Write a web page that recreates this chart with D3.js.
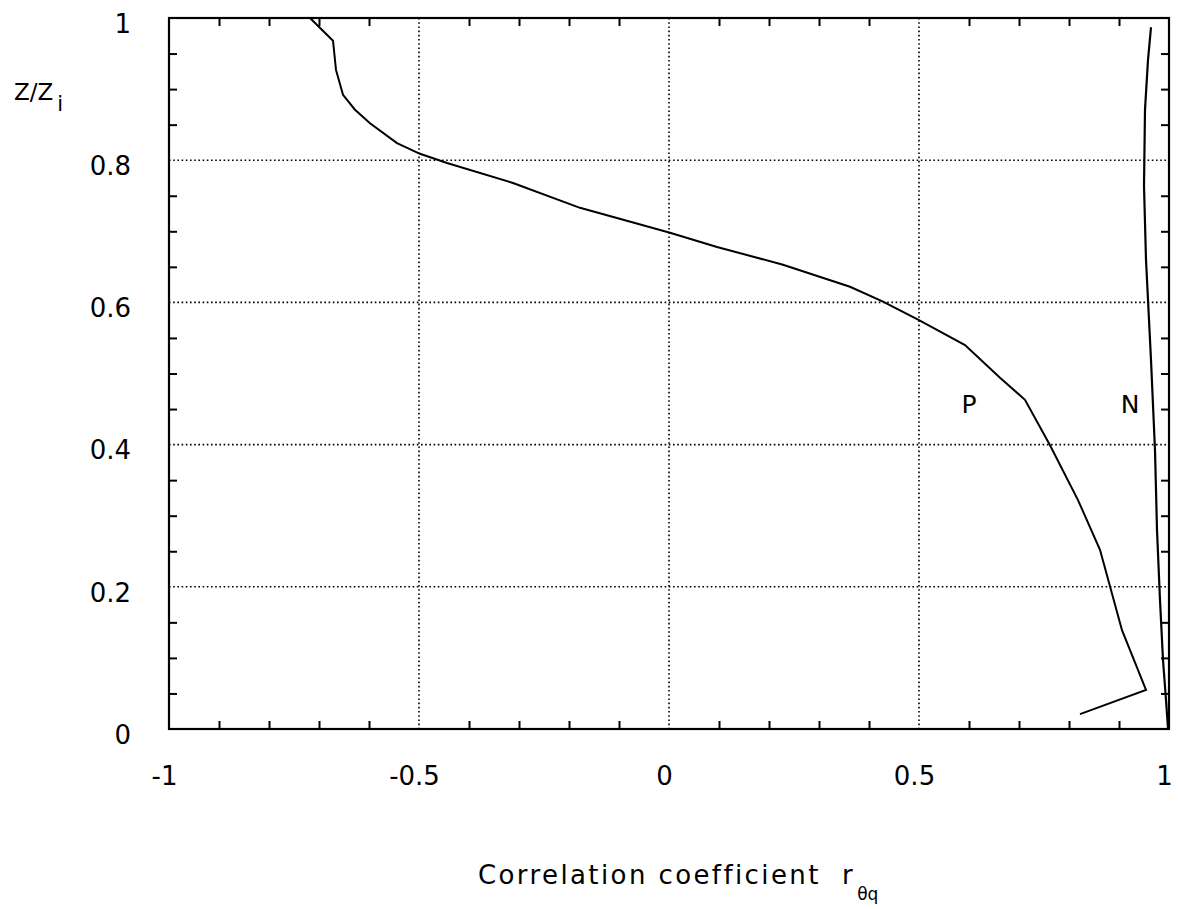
<!DOCTYPE html>
<html>
<head>
<meta charset="utf-8">
<script src="https://cdn.jsdelivr.net/npm/d3@7"></script>
<style>
  body { margin: 0; background: #fff; }
  text { font-family: "DejaVu Sans", sans-serif; fill: #000; }
</style>
</head>
<body>
<div id="chart"></div>
<script>
// profile P : correlation (x) against height z/zi (y)
const pCorr = [-0.718, -0.672, -0.666, -0.652, -0.628, -0.598, -0.544, -0.498, -0.444, -0.312, -0.178, 0.002, 0.096, 0.228, 0.362, 0.428, 0.5, 0.592, 0.662, 0.712, 0.762, 0.818, 0.862, 0.906, 0.954, 0.822]
const pZ = [1.0, 0.968, 0.927, 0.892, 0.871, 0.852, 0.824, 0.809, 0.796, 0.768, 0.733, 0.698, 0.678, 0.653, 0.622, 0.601, 0.575, 0.540, 0.494, 0.463, 0.399, 0.322, 0.252, 0.139, 0.055, 0.021]

// profile N
const nCorr = [0.964, 0.958, 0.952, 0.950, 0.954, 0.964, 0.972, 0.976, 0.982, 0.988, 0.994, 0.998]
const nZ = [0.987, 0.941, 0.871, 0.764, 0.660, 0.519, 0.392, 0.280, 0.181, 0.097, 0.041, 0.001]

const xTickLabels = [-1, -0.5, 0, 0.5, 1]
const yTickLabels = [0, 0.2, 0.4, 0.6, 0.8, 1]
const xGrid = [-0.5, 0, 0.5]
const yGrid = [0.2, 0.4, 0.6, 0.8]

const width = 1179, height = 909
const margin = {left: 169, right: 10, top: 18, bottom: 180}

const svg = d3.select("#chart")
  .append("svg")
  .attr("width", width)
  .attr("height", height)

const xScale = d3.scaleLinear()
  .domain([-1, 1])
  .range([margin.left, 1169])

const yScale = d3.scaleLinear()
  .domain([0, 1])
  .range([729, margin.top])

// dotted grid
svg.selectAll(".gx")
  .data(xGrid)
  .join("line")
  .attr("x1", d => xScale(d))
  .attr("x2", d => xScale(d))
  .attr("y1", yScale(1))
  .attr("y2", yScale(0))
  .attr("stroke", "#000")
  .attr("stroke-width", 1.6)
  .attr("stroke-dasharray", "1.6,2.6")

svg.selectAll(".gy")
  .data(yGrid)
  .join("line")
  .attr("x1", xScale(-1))
  .attr("x2", xScale(1))
  .attr("y1", d => yScale(d))
  .attr("y2", d => yScale(d))
  .attr("stroke", "#000")
  .attr("stroke-width", 1.6)
  .attr("stroke-dasharray", "1.6,2.6")

// minor ticks, inward, skipping the grid positions
const isMajorX = v => xGrid.some(g => Math.abs(g - v) < 1e-6)
const isMajorY = v => yGrid.some(g => Math.abs(g - v) < 1e-6)
const xMinor = d3.range(-9, 10).map(i => i / 10).filter(v => !isMajorX(v))
const yMinor = d3.range(1, 20).map(i => i / 20).filter(v => !isMajorY(v))

const tickStyle = g => {
  g.select(".domain").remove()
  g.selectAll("line").attr("stroke", "#000").attr("stroke-width", 2)
  g.selectAll("text").remove()
}

svg.append("g")
  .attr("transform", `translate(0,${yScale(0)})`)
  .call(d3.axisBottom(xScale).tickValues(xMinor).tickSize(-8))
  .call(tickStyle)
svg.append("g")
  .attr("transform", `translate(0,${yScale(1)})`)
  .call(d3.axisTop(xScale).tickValues(xMinor).tickSize(-8))
  .call(tickStyle)
svg.append("g")
  .attr("transform", `translate(${xScale(-1)},0)`)
  .call(d3.axisLeft(yScale).tickValues(yMinor).tickSize(-8))
  .call(tickStyle)
svg.append("g")
  .attr("transform", `translate(${xScale(1)},0)`)
  .call(d3.axisRight(yScale).tickValues(yMinor).tickSize(-8))
  .call(tickStyle)

// frame
svg.append("rect")
  .attr("x", xScale(-1))
  .attr("y", yScale(1))
  .attr("width", xScale(1) - xScale(-1))
  .attr("height", yScale(0) - yScale(1))
  .attr("fill", "none")
  .attr("stroke", "#000")
  .attr("stroke-width", 2.2)

// tick labels
const labelStyle = g => {
  g.select(".domain").remove()
  g.selectAll("line").remove()
  g.selectAll("text").style("font-size", "26px").style("font-family", "DejaVu Sans, sans-serif")
}
svg.append("g")
  .attr("transform", `translate(-5,${yScale(0)})`)
  .call(d3.axisBottom(xScale).tickValues(xTickLabels).tickSize(0).tickPadding(38).tickFormat(d => String(d)))
  .call(labelStyle)
svg.append("g")
  .attr("transform", `translate(131,6)`)
  .call(d3.axisLeft(yScale).tickValues(yTickLabels).tickSize(0).tickPadding(0).tickFormat(d => String(d)))
  .call(labelStyle)

// curves
const line = d3.line()
  .x(d => xScale(d[0]))
  .y(d => yScale(d[1]))

svg.append("path")
  .datum(d3.zip(pCorr, pZ))
  .attr("d", line)
  .attr("fill", "none")
  .attr("stroke", "#000")
  .attr("stroke-width", 2)

svg.append("path")
  .datum(d3.zip(nCorr, nZ))
  .attr("d", line)
  .attr("fill", "none")
  .attr("stroke", "#000")
  .attr("stroke-width", 2.2)

// curve labels
svg.append("text")
  .text("P")
  .attr("x", xScale(0.6))
  .attr("y", yScale(0.445))
  .attr("text-anchor", "middle")
  .style("font-size", "25px")
svg.append("text")
  .text("N")
  .attr("x", xScale(0.922))
  .attr("y", yScale(0.445))
  .attr("text-anchor", "middle")
  .style("font-size", "25px")

// axis titles
const ylab = svg.append("text")
  .attr("x", 14)
  .attr("y", 100)
  .style("font-size", "23px")
ylab.append("tspan").text("Z/Z")
ylab.append("tspan").text("i").attr("dy", 11).attr("dx", 4).style("font-size", "21px")

const xlab = svg.append("text")
  .attr("x", 478)
  .attr("y", 884)
  .style("font-size", "26px")
  .style("letter-spacing", "2.4px")
xlab.append("tspan").text("Correlation coefficient\u00a0\u00a0r")
xlab.append("tspan").text("θq").attr("dy", 16).attr("dx", 2).style("font-size", "17px").style("letter-spacing", "0px")
</script>
</body>
</html>
